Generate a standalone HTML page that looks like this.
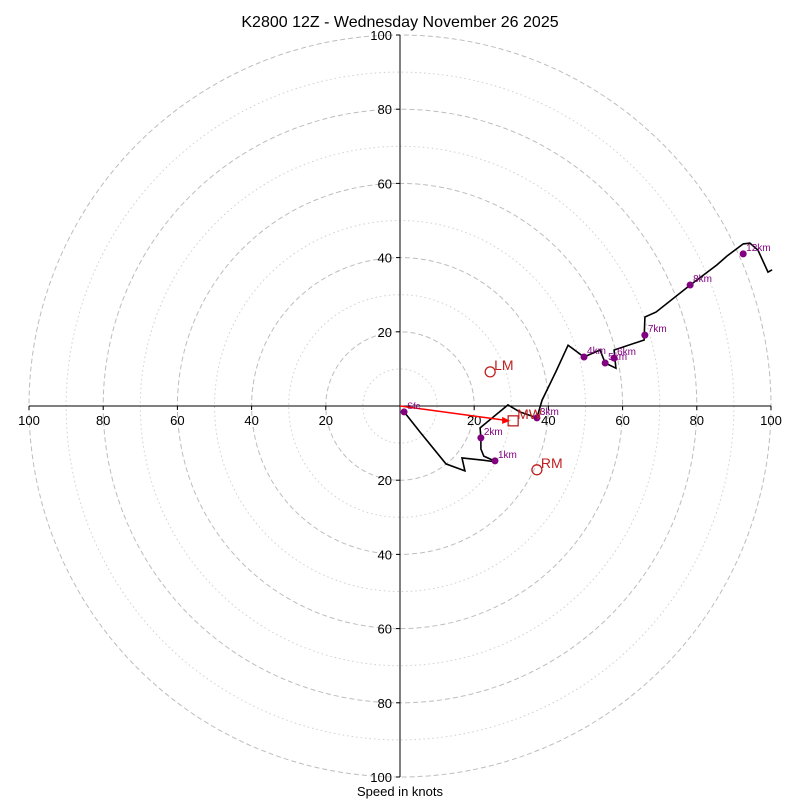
<!DOCTYPE html>
<html><head><meta charset="utf-8"><style>
body{margin:0;background:#fff}
svg{font-family:"Liberation Sans","DejaVu Sans",sans-serif}
</style></head><body>
<svg id="c" width="800" height="800" viewBox="0 0 800 800">
<text x="400" y="27" text-anchor="middle" font-size="16">K2800 12Z - Wednesday November 26 2025</text>
<text x="400" y="796" text-anchor="middle" font-size="13">Speed in knots</text>
<g id="grid"></g><g id="axes"></g><g id="plot"></g>
</svg>
<script>
const traceU=[1.1,5.4,12.4,17.5,16.7,22.4,26.1,22.6,21.8,21.8,21.6,29.1,32.3,36.9,38.3,42.0,45.3,49.6,53.9,55.3,58.2,57.7,65.8,66.0,69.0,78.2,85.4,88.1,92.5,94.3,96.5,99.2,100.3];
const traceV=[-1.6,-7.0,-15.6,-17.5,-14.0,-14.6,-15.1,-13.5,-11.6,-8.6,-5.9,0.3,-1.6,-3.2,1.6,9.2,16.4,13.2,15.1,11.6,10.2,15.1,17.8,24.0,25.3,32.6,38.0,40.4,43.7,43.9,42.0,36.1,36.7];
const markLabels=["Sfc","1km","2km","3km","4km","5km","6km","7km","8km","12km"];
const markU=[1.1,25.6,21.8,36.9,49.6,55.3,57.7,66.0,78.2,92.5];
const markV=[-1.6,-14.8,-8.6,-3.2,13.2,11.6,12.9,19.1,32.6,41.0];
const motionLabels=["LM","RM","MW"];
const motionU=[24.3,36.9,30.5];
const motionV=[9.2,-17.2,-4.0];
const ticks=[20,40,60,80,100];
const cx=400,cy=406,s=3.71;
const X=u=>cx+u*s, Y=v=>cy-v*s;
const NS="http://www.w3.org/2000/svg";
function mk(p,t,a){const e=document.createElementNS(NS,t);for(const k in a)e.setAttribute(k,a[k]);p.appendChild(e);return e;}
const grid=document.getElementById('grid'),axes=document.getElementById('axes'),plot=document.getElementById('plot');
for(let r=10;r<=100;r+=10){
 const c=mk(grid,'circle',{cx:cx,cy:cy,r:r*s,fill:'none',stroke:r%20?'#d0d0d0':'#bdbdbd','stroke-width':1,'stroke-dasharray':r%20?'1.5,3':'5,3'});
 
 
}
const xa=mk(axes,'line',{x1:X(-100),y1:cy,x2:X(100),y2:cy,stroke:'#000','stroke-width':1});


const ya=mk(axes,'line',{x1:cx,y1:Y(100),x2:cx,y2:Y(-100),stroke:'#000','stroke-width':1});


ticks.forEach(t=>{[-1,1].forEach(d=>{
 mk(axes,'line',{x1:X(d*t),y1:cy,x2:X(d*t),y2:cy+4,stroke:'#000'});
 const tx=mk(axes,'text',{x:X(d*t),y:cy+19,'text-anchor':'middle','font-size':13});tx.textContent=t;
 
 
 mk(axes,'line',{x1:cx-4,y1:Y(d*t),x2:cx,y2:Y(d*t),stroke:'#000'});
 const ty=mk(axes,'text',{x:cx-8,y:Y(d*t)+5,'text-anchor':'end','font-size':13});ty.textContent=t;
 
 
});});
const pts=traceU.map((u,i)=>X(u).toFixed(1)+','+Y(traceV[i]).toFixed(1)).join(' ');
const tr=mk(plot,'polyline',{points:pts,fill:'none',stroke:'#000','stroke-width':1.6});


// mean wind arrow
const ax=X(motionU[2])-3,ay=Y(motionV[2]);
const ar=mk(plot,'line',{x1:cx,y1:cy,x2:ax-6,y2:ay-0.7,stroke:'red','stroke-width':1.6});


mk(plot,'polygon',{points:`${ax},${ay} ${ax-8},${ay-4} ${ax-8},${ay+3}`,fill:'red'});
markU.forEach((u,i)=>{
 const d=mk(plot,'circle',{cx:X(u),cy:Y(markV[i]),r:3.5,fill:'purple'});
 
 
 const t=mk(plot,'text',{x:X(u)+3,y:Y(markV[i])-3,'font-size':i==0?9:10,fill:'purple'});t.textContent=markLabels[i];
 
 
});
motionU.forEach((u,i)=>{
 const x=X(u),y=Y(motionV[i]);
 const m=i==2?mk(plot,'rect',{x:x-5,y:y-5,width:10,height:10,fill:'none',stroke:'#c02020','stroke-width':1.3}):mk(plot,'circle',{cx:x,cy:y,r:5,fill:'none',stroke:'#c02020','stroke-width':1.3});
 
 
 const t=mk(plot,'text',{x:x+4,y:y-2,'font-size':14,fill:'#c02020'});t.textContent=motionLabels[i];
 
 
});
</script>
</body></html>
